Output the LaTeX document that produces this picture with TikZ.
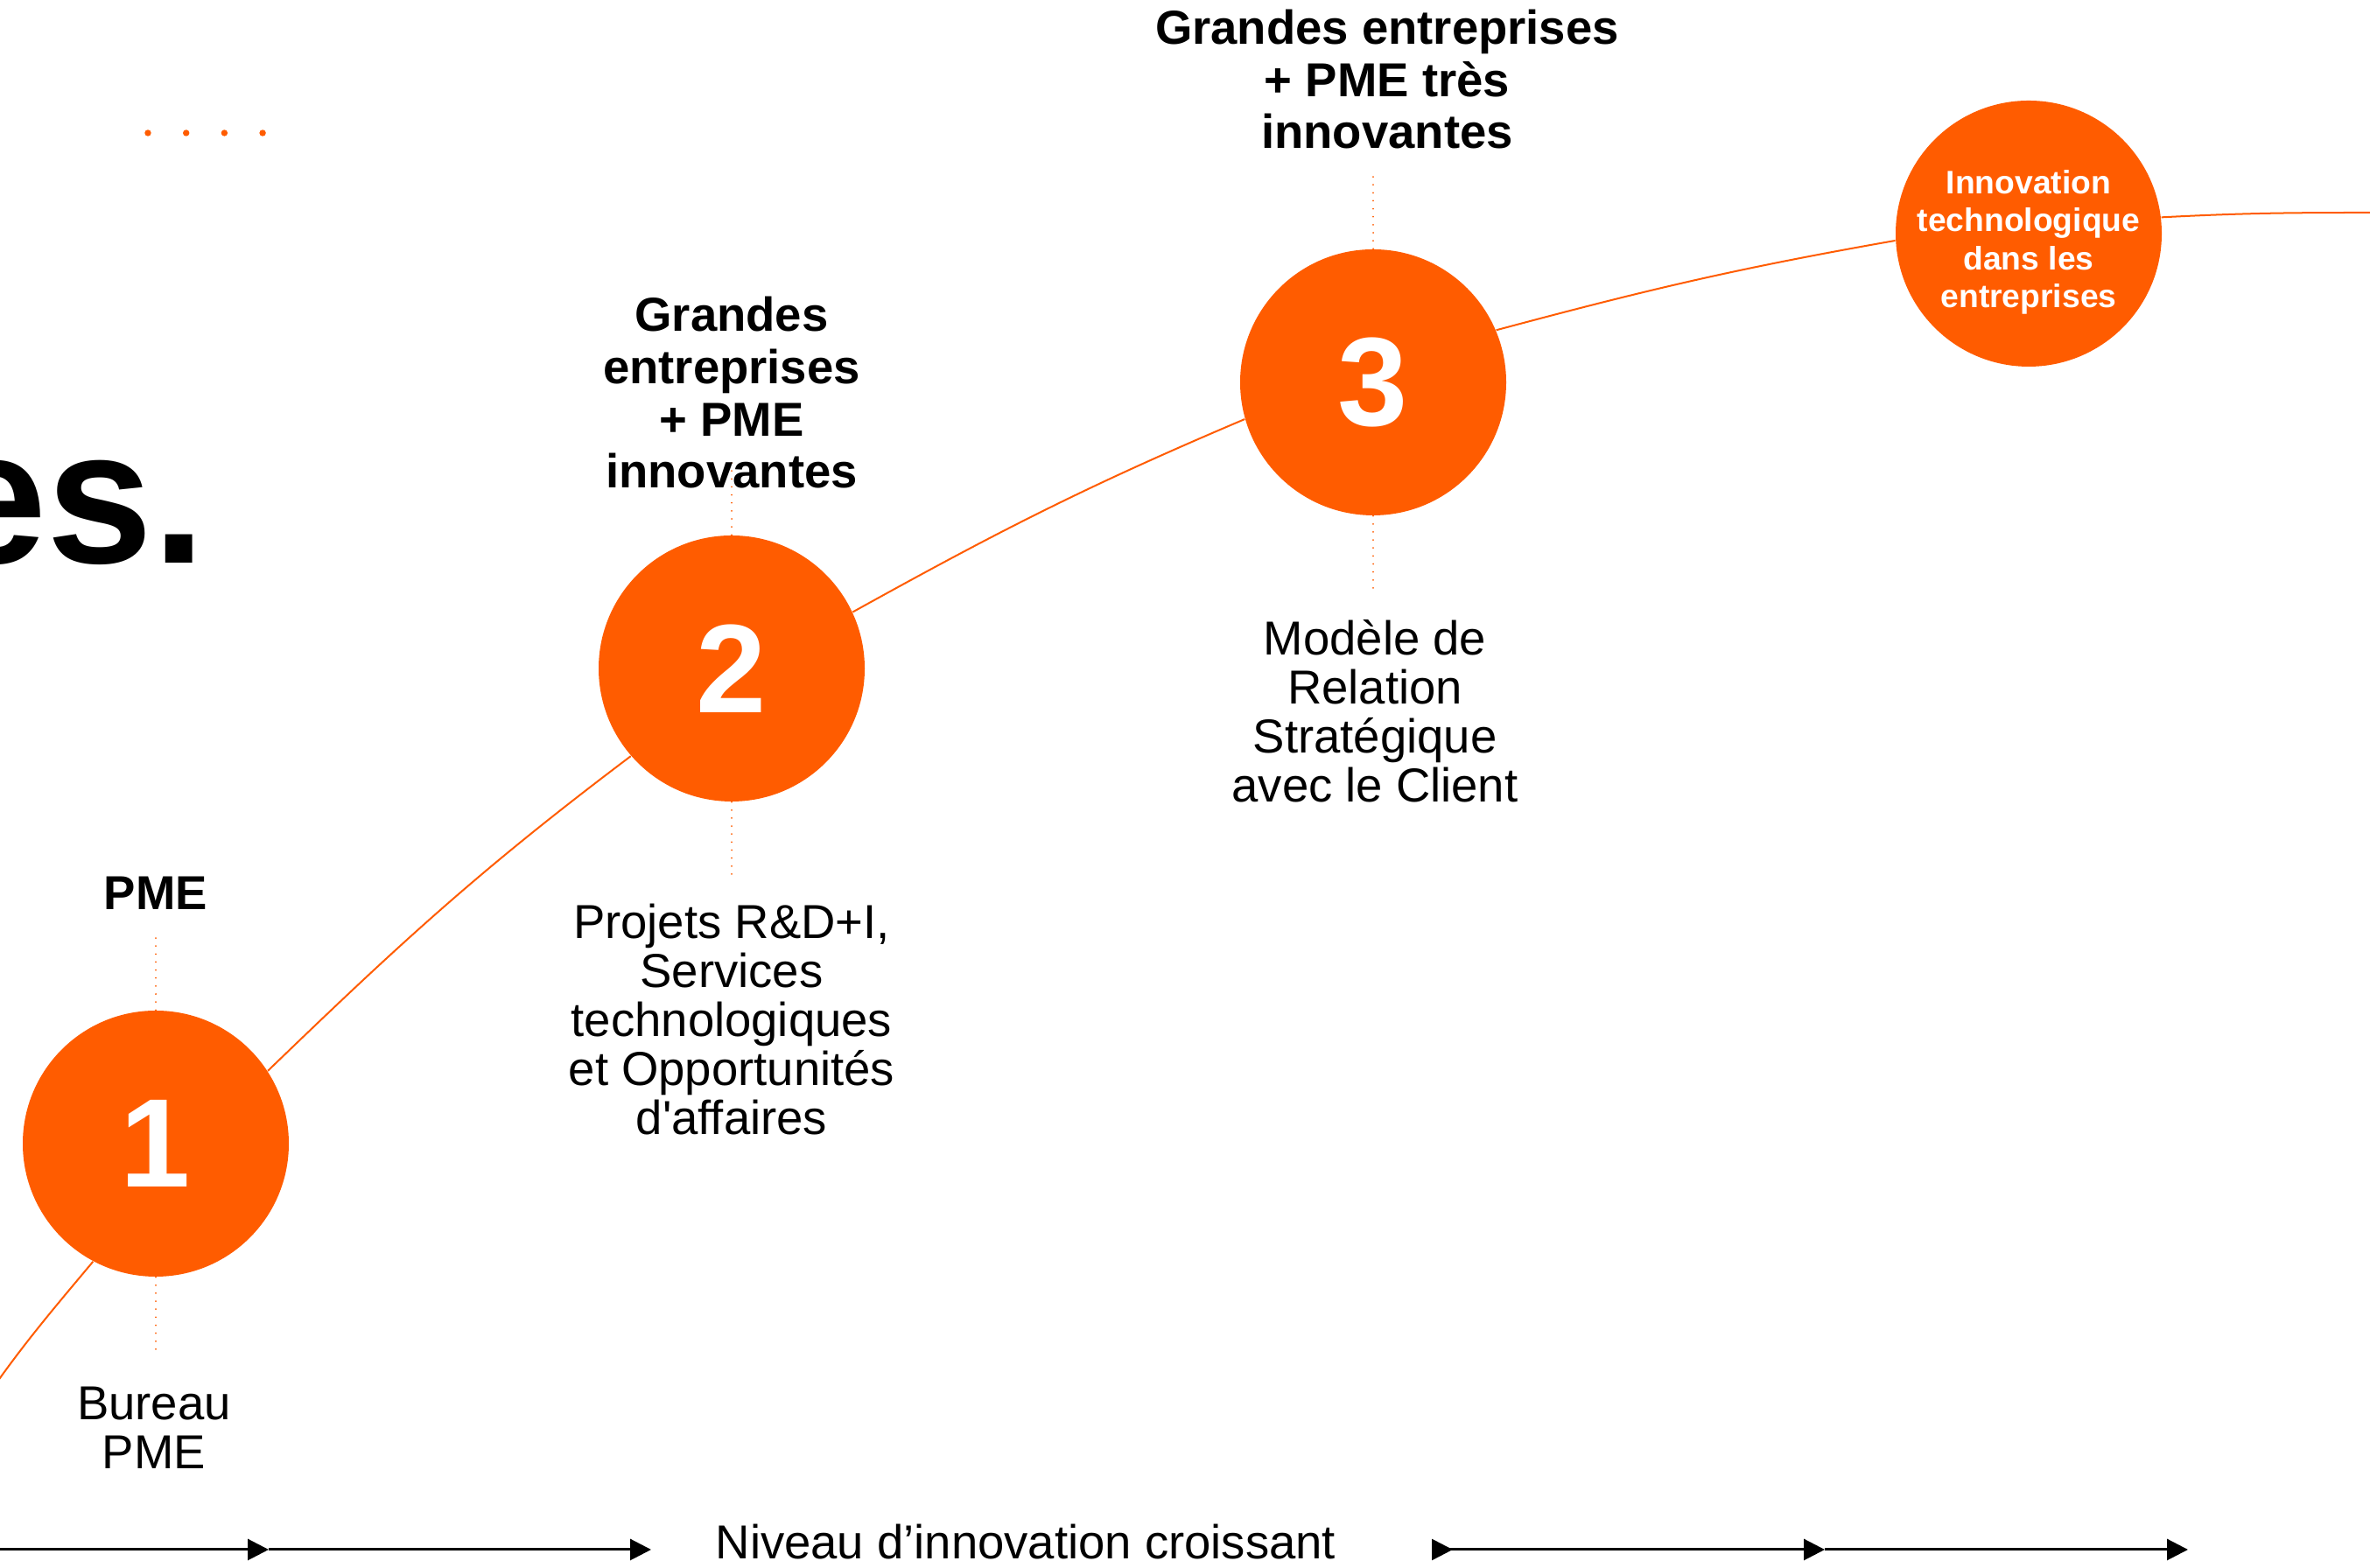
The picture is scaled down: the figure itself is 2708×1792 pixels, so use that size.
\documentclass[tikz,border=0pt]{standalone}
\usepackage{fontspec}
\setmainfont{Liberation Sans}
\usepackage{tikz}
\usetikzlibrary{arrows.meta}
\usetikzlibrary{positioning}
\definecolor{innov}{RGB}{255,92,0}

\begin{document}
\begin{tikzpicture}[x=0.1mm,y=0.1mm,
   stage/.style={circle,fill=innov,text=white,minimum size=30.4mm,inner sep=0pt,
      font=\fontsize{41}{41}\selectfont\bfseries},
   goal/.style={align=center,text=white,inner sep=0pt,font=\fontsize{10.6}{12.3}\selectfont\bfseries},
   who/.style={align=center,inner sep=0pt,anchor=base,font=\fontsize{15.5}{17}\selectfont\bfseries},
   what/.style={align=center,inner sep=0pt,anchor=base,font=\fontsize{15.5}{16}\selectfont},
   curve/.style={innov,line width=0.57pt},
   guide/.style={innov,line width=0.57pt,line cap=round,dash pattern=on 0pt off 2.6pt},
   axis/.style={line width=0.85pt,-{Triangle[length=6.8pt,width=6.8pt]}}]
\useasboundingbox (0,0) rectangle (2708,1792);
\clip (0,0) rectangle (2708,1792);

\node[anchor=base east,inner sep=0pt,font=\fontsize{62}{62}\selectfont\bfseries] (title) at (236,1148) {es.};
\foreach \i in {0,...,3}
   \fill[innov] (169+43.7*\i,1640) circle (0.37mm);

\node[stage] (c1) at (178,485) {1};
\node[stage] (c2) at (836,1028) {2};
\node[stage] (c3) at (1569,1355) {3};
\node[stage] (c4) at (2318,1525) {};
\node[goal,yshift=-1mm] (c4text) at (c4) {Innovation\\technologique\\dans les\\entreprises};

\foreach \c in {c1,c2,c3}{
   \draw[guide] (\c.north) -- ++(0,85);
   \draw[guide] (\c.south) -- ++(0,-85);
}

\node[who] (w1) at (178,752) {PME};
\node[what] (b1) at (176,113) {Bureau\\PME};
\node[who] (w2) at (836,1234) {Grandes\\entreprises\\+ PME\\innovantes};
\node[what] (b2) at (836,495) {Projets R\&D+I,\\Services\\technologiques\\et Opportunités\\d\textquotesingle affaires};
\node[who] (w3) at (1585,1622) {Grandes entreprises\\+ PME très\\innovantes};
\node[what] (b3) at (1571,875) {Modèle de\\Relation\\Stratégique\\avec le Client};

\coordinate (s0) at (-30,174);
\coordinate (s1) at (2720,1549);
\draw[curve] (s0) to[out=56,in=230] (c1.242);
\draw[curve] (c1.33) to[out=44,in=217] (c2.221);
\draw[curve] (c2.25) to[out=29,in=203] (c3.196);
\draw[curve] (c3.23) to[out=15,in=190] (c4.183);
\draw[curve] (c4.7) to[out=3,in=180] (s1);

\coordinate (a0) at (-10,21);
\coordinate (a1) at (307,21);
\coordinate (a2) at (744,21);
\coordinate (a3) at (1636,21);
\coordinate (a4) at (2085,21);
\coordinate (a5) at (2500,21);
\node[what] (axislab) at (1172,10) {Niveau d’innovation croissant};
\draw[axis] (a0) -- (a1);
\draw[axis] (a1) -- (a2);
\draw[axis,{Triangle[reversed,length=6.8pt,width=6.8pt]}-{Triangle[length=6.8pt,width=6.8pt]}] (a3) -- (a4);
\draw[axis] (a4) -- (a5);
\end{tikzpicture}
\end{document}
